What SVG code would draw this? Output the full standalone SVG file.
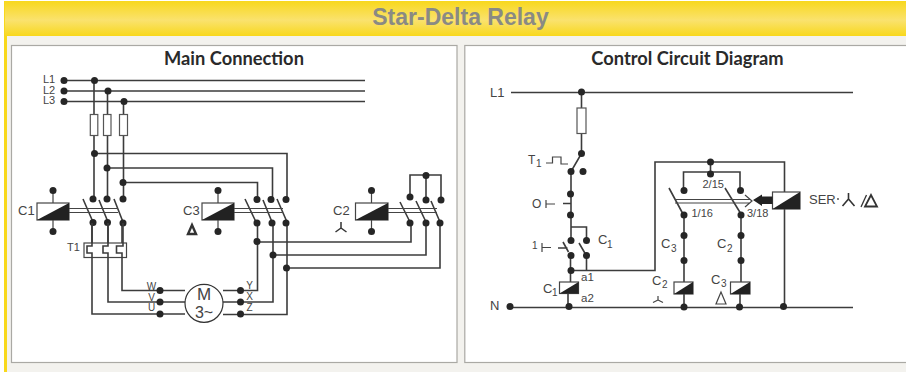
<svg xmlns="http://www.w3.org/2000/svg" width="906" height="372" viewBox="0 0 906 372">
<style>
.w{fill:none;stroke:#3c3c3c;stroke-width:1.6}
.t{fill:none;stroke:#444;stroke-width:1.2}
.f{fill:#fff;stroke:#555;stroke-width:1.2}
.c{fill:#fff;stroke:#444;stroke-width:1.2}
.k{fill:#222;stroke:none}
text{font-family:"Liberation Sans",Arial,sans-serif;fill:#444;font-size:11px}
.h{font-family:"Lato","Open Sans",sans-serif;font-weight:700;font-size:18.3px;fill:#2a2a2a}
.s{font-size:10px}
</style>
<defs>
<linearGradient id="hdr" x1="0" y1="0" x2="0" y2="1"><stop offset="0" stop-color="#f8d81c"/><stop offset="0.55" stop-color="#fae26e"/><stop offset="1" stop-color="#f8d81c"/></linearGradient>
<circle id="d" r="3.5" fill="#262626"/>
</defs>
<g id="background">
<rect width="906" height="372" fill="#fff"/>
<rect x="4" y="1" width="902" height="371" fill="#f3f2ee"/>
<rect x="4" y="1" width="3" height="371" fill="#f8d81c"/>
<rect x="5" y="1" width="901" height="35" fill="url(#hdr)"/>
<text x="460.500" y="24.500" text-anchor="middle" style="font-size:23px;font-weight:700;fill:#8a8a84">Star-Delta Relay</text>
</g>
<g id="panel-main"><rect x="11.500" y="45.500" width="445.500" height="317" fill="#fff" stroke="#aaa9a4" stroke-width="1.200"/><text class="h" x="234" y="65" text-anchor="middle">Main Connection</text></g>
<g id="panel-control"><rect x="464.800" y="45.500" width="445" height="317" fill="#fff" stroke="#aaa9a4" stroke-width="1.200"/><text class="h" x="687.500" y="65" text-anchor="middle">Control Circuit Diagram</text></g>
<g id="connectors">
<path class="w" d="M64 80.500H365M64 91H365M64 101.500H365"/>
<path class="w" d="M94 81V199M107.500 91V199M123.500 102V199"/>
<path class="w" d="M94 153.500H287V199.500M107 168H272.500V199.500M123 182.500H257.500V199.500"/>
<path class="w" d="M92 223V314H185M108 223V302H185M122 223V290.500H185"/>
<path class="w" d="M223 290.500H257.500V223M223 302H273V223M223 314.500H287V223"/>
<path class="w" d="M257.500 242H411V223M273 255H426V223M286.500 268H440V223"/>
<path class="w" d="M410 197V175H441V200M426 175V200"/>
<path class="w" d="M83 199L93 222M99 200L108 222M114 199L123 222M245 199L256 222M263 200L272 222M277 199L287 222M400 202L410 222M416 201L426 222M431 201L440 222"/>
<path class="t" d="M69 208.500H118M69 212.500H118M234 208.500H283M234 212.500H283M388 208.500H437M388 212.500H437"/>
<path class="t" d="M53 190V203M53 220V232M218 190V203M218 220V232M371.500 190V203M371.500 220V232"/>
<path class="w" d="M511 92.500H853M581.500 92.500V153.500L571 171.500V227M570.500 227H586.500V240M571 227V240M570.500 256V282M568 293V307"/>
<path class="w" d="M586.500 256V270.500M571 270.500H655V162H784.500V307M710.500 162V174M683.500 190V172H740V190"/>
<path class="w" d="M669 188L683 214M725 188L741 214M684 215V282M741 215V282M684 294V307M740 294V307M510 307.500H853"/>
<path class="w" d="M571 203.500H563M563 242L568.500 252M558 248H567.500M579 243L586 255"/>
<path class="t" d="M675 199.500H750M675 203H750M745 195L752 201L745 207"/>
</g>
<g id="fuses"><rect class="f" x="90.300" y="114.500" width="7.500" height="21"/><rect class="f" x="103.500" y="114.500" width="7.500" height="21"/><rect class="f" x="119.500" y="114.500" width="8" height="21"/><rect class="f" x="577" y="108" width="9" height="25.500"/></g>
<g id="L1"><use href="#d" x="64" y="80.500"/><use href="#d" x="94.500" y="80.500"/><text x="43" y="83">L1</text></g>
<g id="L2"><use href="#d" x="64" y="91"/><use href="#d" x="108" y="91"/><text x="43" y="93.500">L2</text></g>
<g id="L3"><use href="#d" x="64" y="101.500"/><use href="#d" x="124" y="101.500"/><text x="43" y="104">L3</text></g>
<g id="junctions-main">
<use href="#d" x="94.500" y="153.500"/><use href="#d" x="107" y="168"/><use href="#d" x="123" y="182.500"/>
<use href="#d" x="257" y="241.500"/><use href="#d" x="273" y="255"/><use href="#d" x="286.500" y="268"/>
</g>
<g id="C1">
<rect class="c" x="37" y="203" width="32" height="17"/><polygon class="k" points="37,220 69,203 69,220"/>
<use href="#d" x="53" y="190.500"/><use href="#d" x="53" y="231.500"/>
<use href="#d" x="93" y="199"/><use href="#d" x="107" y="199"/><use href="#d" x="123" y="199"/><use href="#d" x="93" y="222.500"/><use href="#d" x="107.500" y="222.500"/><use href="#d" x="123" y="223"/>
<text x="18" y="215" style="font-size:13px">C1</text>
</g>
<g id="T1">
<rect x="84" y="243" width="42.500" height="14.500" fill="#fff" stroke="#444" stroke-width="1.200"/>
<path class="w" d="M92 223V246H87V253H92V258M108 223V246H103V253H108V258M123 223V246H116.500V253H122V258"/>
<text x="67" y="251">T1</text>
</g>
<g id="C3">
<rect class="c" x="202" y="203" width="32" height="17"/><polygon class="k" points="202,220 234,203 234,220"/>
<use href="#d" x="218" y="190.500"/><use href="#d" x="218" y="231.500"/>
<use href="#d" x="257" y="199.500"/><use href="#d" x="271" y="199.500"/><use href="#d" x="286" y="199.500"/><use href="#d" x="257" y="223"/><use href="#d" x="272" y="223"/><use href="#d" x="286" y="223"/>
<text x="183" y="215" style="font-size:13px">C3</text>
<path d="M192 225L188 234H196Z" fill="none" stroke="#333" stroke-width="2.400"/>
</g>
<g id="C2">
<rect class="c" x="355.500" y="203" width="32.500" height="17"/><polygon class="k" points="355.500,220 388,203 388,220"/>
<use href="#d" x="371.500" y="190.500"/><use href="#d" x="371.500" y="231.500"/>
<use href="#d" x="410" y="197"/><use href="#d" x="426" y="200"/><use href="#d" x="441" y="200"/><use href="#d" x="426" y="175.500"/><use href="#d" x="410" y="223"/><use href="#d" x="426" y="223"/><use href="#d" x="440" y="223"/>
<text x="333" y="215" style="font-size:13px">C2</text>
<path d="M341 222V228M341 228L335.500 232M341 228L346.500 232" fill="none" stroke="#333" stroke-width="1.500"/>
</g>
<g id="motor">
<circle cx="204" cy="303.300" r="19" fill="#fff" stroke="#333" stroke-width="1.200"/>
<text x="204" y="300" text-anchor="middle" style="font-size:17px">M</text>
<text x="204" y="318" text-anchor="middle" style="font-size:16px">3~</text>
<use href="#d" x="160" y="290.500"/><use href="#d" x="160" y="302"/><use href="#d" x="160" y="314"/>
<use href="#d" x="240.500" y="290.500"/><use href="#d" x="240.500" y="302"/><use href="#d" x="240.500" y="314"/>
<g text-anchor="middle"><text class="s" x="151.500" y="290">W</text><text class="s" x="151.500" y="300.500">V</text><text class="s" x="151.500" y="311">U</text><text class="s" x="249.500" y="289">Y</text><text class="s" x="249.500" y="300">X</text><text class="s" x="249.500" y="311">Z</text></g>
</g>
<g id="control-L1"><text x="490" y="96.500" style="font-size:13px">L1</text><use href="#d" x="581.500" y="92"/></g>
<g id="T1-contact"><use href="#d" x="581.500" y="153.500"/><use href="#d" x="571" y="171.500"/><use href="#d" x="583" y="171.500"/>
<text x="528" y="164" style="font-size:12px">T</text><text x="536" y="167" style="font-size:10px">1</text>
<path class="t" d="M546 163H552.500V157H561V164H568"/></g>
<g id="O-button"><use href="#d" x="570.500" y="194"/><use href="#d" x="570.500" y="215"/>
<text x="532" y="208" style="font-size:12px">O</text><path class="t" d="M546 200V208M546 204H555"/></g>
<g id="contact-1-C1"><use href="#d" x="571" y="240.500"/><use href="#d" x="586.500" y="240.500"/><use href="#d" x="571" y="255.500"/><use href="#d" x="586.500" y="255.500"/><use href="#d" x="571" y="270.500"/>
<text x="532" y="249" style="font-size:10px">1</text><path class="t" d="M542 243V252M542 247.500H551"/>
<text x="598" y="244" style="font-size:13px">C</text><text x="607" y="248" style="font-size:10px">1</text></g>
<g id="coil-C1"><rect class="c" x="559.500" y="282" width="19" height="11.500"/><polygon class="k" points="559.500,293.500 578.500,282 578.500,293.500"/>
<text x="543" y="293" style="font-size:13px">C</text><text x="552" y="296" style="font-size:10px">1</text>
<text x="581" y="281" style="font-size:11.500px">a1</text><text x="581" y="302" style="font-size:11.500px">a2</text></g>
<g id="N"><text x="490" y="310" style="font-size:13px">N</text><use href="#d" x="510" y="306.500"/><use href="#d" x="569" y="306.500"/><use href="#d" x="684" y="307"/><use href="#d" x="739.500" y="307"/><use href="#d" x="783.500" y="306.500"/></g>
<g id="changeover"><use href="#d" x="710.500" y="162"/><use href="#d" x="710.500" y="174"/><use href="#d" x="684" y="190.500"/><use href="#d" x="740.500" y="190.500"/><use href="#d" x="684" y="215"/><use href="#d" x="741" y="215"/>
<text x="702.500" y="188">2/15</text><text x="691.500" y="217">1/16</text><text x="747" y="217">3/18</text></g>
<g id="C3-branch"><use href="#d" x="684" y="235.500"/><use href="#d" x="684" y="260.500"/><text x="661" y="248" style="font-size:13px">C</text><text x="671" y="252" style="font-size:10px">3</text></g>
<g id="C2-branch"><use href="#d" x="741" y="235.500"/><use href="#d" x="741" y="260.500"/><text x="717" y="248" style="font-size:13px">C</text><text x="727" y="252" style="font-size:10px">2</text></g>
<g id="coil-C2"><rect class="c" x="674" y="282" width="19" height="12"/><polygon class="k" points="674,294 693,282 693,294"/>
<text x="652" y="285" style="font-size:13px">C</text><text x="662" y="288" style="font-size:10px">2</text>
<path class="t" d="M658 296V300M658 300L653 302.500M658 300L663 302.500"/></g>
<g id="coil-C3"><rect class="c" x="730.500" y="282" width="19.500" height="12"/><polygon class="k" points="730.500,294 750,282 750,294"/>
<text x="711" y="284" style="font-size:13px">C</text><text x="721" y="287" style="font-size:10px">3</text>
<path d="M721 292L716 304H726Z" fill="none" stroke="#444" stroke-width="1.200"/></g>
<g id="SER">
<rect class="c" x="772.500" y="192" width="27.500" height="17"/><polygon class="k" points="772.500,209 800,192 800,209"/>
<path d="M753 200L762 194.500V196.500H772.500V204H762V206Z" fill="#222"/>
<text x="809" y="204" style="font-size:13px">SER</text><circle cx="838" cy="199" r="0.900" fill="#444"/>
<path d="M848.500 193V199M848.500 199L842.500 206M848.500 199L854.500 206" fill="none" stroke="#333" stroke-width="1.600"/>
<path d="M861 207L866.500 195" fill="none" stroke="#333" stroke-width="1.300"/>
<path d="M871 195L865 206.500H877Z" fill="none" stroke="#333" stroke-width="1.800"/>
</g>
</svg>
